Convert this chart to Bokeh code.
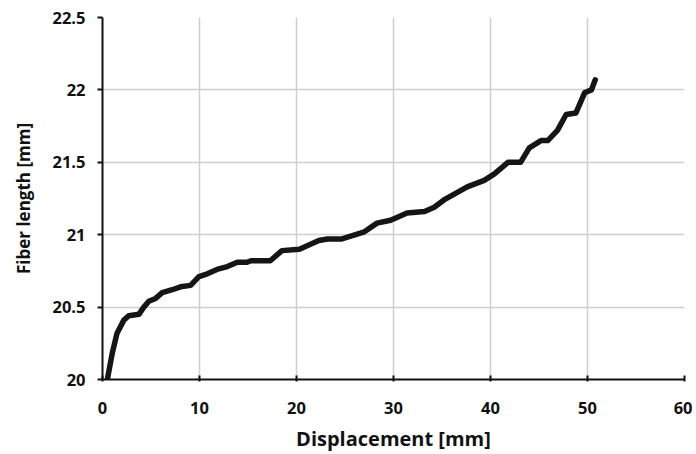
from bokeh.plotting import figure
from bokeh.embed import file_html
from bokeh.resources import INLINE
from bokeh.models import FixedTicker, Range1d

displacement = [0.5, 1.0, 1.5, 2.2, 2.7, 3.75, 4.26, 4.78, 5.47, 6.16, 7.19, 8.05, 9.08, 9.94,
                10.8, 11.8, 12.87, 13.9, 14.9, 15.3, 17.3, 18.5, 20.3, 22.3, 23.2, 24.6,
                27.0, 28.3, 29.7, 31.4, 33.2, 34.2, 35.2, 37.6, 39.35, 40.4, 41.8, 43.1,
                44.0, 45.2, 45.9, 46.9, 47.8, 48.8, 49.7, 50.4, 50.8]
fiber_length = [20.0, 20.18, 20.32, 20.41, 20.44, 20.45, 20.50, 20.54, 20.56, 20.60, 20.62,
                20.64, 20.65, 20.71, 20.73, 20.76, 20.78, 20.81, 20.81, 20.82, 20.82, 20.89,
                20.90, 20.96, 20.97, 20.97, 21.02, 21.08, 21.10, 21.15, 21.16, 21.19, 21.24,
                21.33, 21.375, 21.42, 21.50, 21.50, 21.60, 21.65, 21.65, 21.72, 21.83, 21.84,
                21.98, 22.00, 22.07]
x_ticks = [0, 10, 20, 30, 40, 50, 60]
y_ticks = [20, 20.5, 21, 21.5, 22, 22.5]

p = figure(width=692, height=454, output_backend="svg", toolbar_location=None,
           x_range=Range1d(0, 60), y_range=Range1d(20, 22.5),
           min_border_left=102, min_border_right=8, min_border_top=17, min_border_bottom=70)
p.outline_line_color = None

p.line(displacement, fiber_length, line_color="#151515", line_width=5.5, line_join="round", line_cap="round")

font = "Open Sans"
for ax in (p.xaxis[0], p.yaxis[0]):
    ax.axis_line_color = "#111111"
    ax.axis_line_width = 2
    ax.major_tick_line_color = "#111111"
    ax.major_tick_line_width = 2
    ax.minor_tick_line_color = None
    ax.major_label_text_font = font
    ax.major_label_text_font_style = "bold"
    ax.major_label_text_font_size = "16.5px"
    ax.major_label_text_color = "#111111"
    ax.axis_label_text_font = font
    ax.axis_label_text_font_style = "bold"
    ax.axis_label_text_color = "#111111"

p.xaxis.axis_label_text_font_size = "20px"
p.yaxis.axis_label_text_font_size = "17px"
p.xaxis.ticker = FixedTicker(ticks=x_ticks)
p.yaxis.ticker = FixedTicker(ticks=y_ticks)
p.yaxis.major_label_overrides = {20: "20", 20.5: "20.5", 21: "21", 21.5: "21.5", 22: "22", 22.5: "22.5"}
p.xaxis.axis_label = "Displacement [mm]"
p.yaxis.axis_label = "Fiber length [mm]"
p.xaxis.major_tick_in = 4
p.xaxis.major_tick_out = 2
p.yaxis.major_tick_in = 0
p.yaxis.major_tick_out = 5
p.xaxis.major_label_standoff = 20
p.yaxis.major_label_standoff = 12
p.xaxis.axis_label_standoff = 8
p.yaxis.axis_label_standoff = 14

p.xgrid.ticker = FixedTicker(ticks=x_ticks)
p.ygrid.ticker = FixedTicker(ticks=y_ticks)
for g in (p.xgrid[0], p.ygrid[0]):
    g.grid_line_color = "#cfcfcf"
    g.grid_line_width = 1.5

open("out.html", "w").write(file_html(p, INLINE))
